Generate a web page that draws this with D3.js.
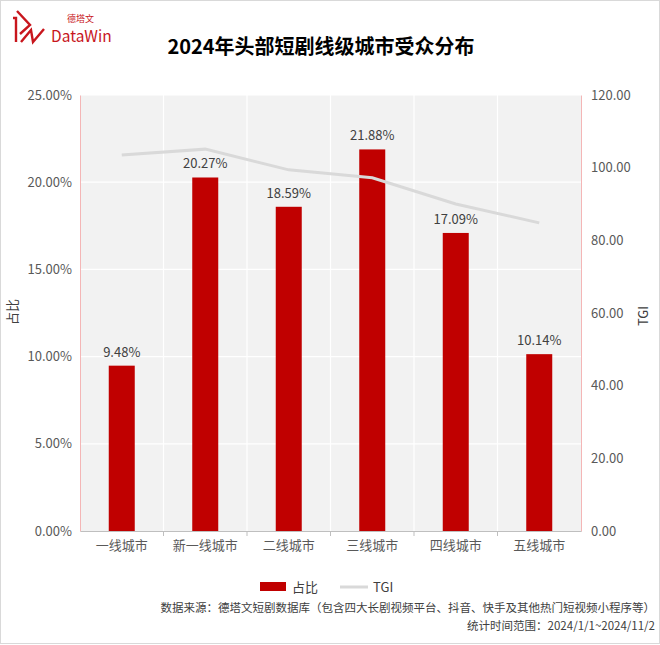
<!DOCTYPE html>
<html>
<head>
<meta charset="utf-8">
<style>
body { margin: 0; background: #fff; }
text { font-family: "Noto Sans CJK SC", "Noto Sans", sans-serif; }
.tick text { fill: #595959; font-size: 13px; }
</style>
</head>
<body>
<svg width="660" height="645"></svg>
<script src="https://d3js.org/d3.v7.min.js"></script>
<script>

var categories = ["一线城市", "新一线城市", "二线城市", "三线城市", "四线城市", "五线城市"];
var share = [9.48, 20.27, 18.59, 21.88, 17.09, 10.14];
var tgi = [103.5, 105.1, 99.4, 97.2, 90.0, 84.8];
var leftTicks = [0, 5, 10, 15, 20, 25];
var rightTicks = [0, 20, 40, 60, 80, 100, 120];

var svg = d3.select("svg");
var plotL = 80, plotR = 581, plotT = 95, plotB = 531;

// frame
svg.append("rect").attr("x", 0.5).attr("y", 0.5).attr("width", 659).attr("height", 643)
  .attr("fill", "none").attr("stroke", "#d9d9d9");

var x = d3.scaleBand().domain(categories).range([plotL, plotR]);
var y = d3.scaleLinear().domain([0, 25]).range([plotB, plotT]);
var y2 = d3.scaleLinear().domain([0, 120]).range([plotB, plotT]);

// plot background
svg.append("rect").attr("x", plotL).attr("y", plotT).attr("width", plotR - plotL).attr("height", plotB - plotT)
  .attr("fill", "#f2f2f2");

// grid
svg.append("g").selectAll("line").data(leftTicks.slice(1)).enter().append("line")
  .attr("x1", plotL).attr("x2", plotR)
  .attr("y1", function(d) { return y(d); }).attr("y2", function(d) { return y(d); })
  .attr("stroke", "#fff").attr("stroke-width", 1.2);
svg.append("g").selectAll("line").data(categories.slice(1)).enter().append("line")
  .attr("x1", function(d) { return x(d); }).attr("x2", function(d) { return x(d); })
  .attr("y1", plotT).attr("y2", plotB)
  .attr("stroke", "#fff").attr("stroke-width", 1.2);

// axes
var yAxis = svg.append("g").attr("transform", "translate(" + plotL + ",0)")
  .call(d3.axisLeft(y).tickValues(leftTicks).tickSize(0).tickPadding(8)
    .tickFormat(function(d) { return d.toFixed(2) + "%"; }));
yAxis.select(".domain").attr("stroke", "#f4b6b6");

var y2Axis = svg.append("g").attr("transform", "translate(" + plotR + ",0)")
  .call(d3.axisRight(y2).tickValues(rightTicks).tickSize(0).tickPadding(10)
    .tickFormat(function(d) { return d.toFixed(2); }));
y2Axis.select(".domain").attr("stroke", "#f4b6b6");

var xAxis = svg.append("g").attr("transform", "translate(0," + plotB + ")")
  .call(d3.axisBottom(x).tickSize(0).tickPadding(10));
xAxis.select(".domain").attr("stroke", "#bfbfbf");
xAxis.selectAll(".tick text").attr("font-size", "13px").attr("fill", "#404040");
svg.append("g").selectAll("line").data(categories.slice(1)).enter().append("line")
  .attr("x1", function(d) { return x(d); }).attr("x2", function(d) { return x(d); })
  .attr("y1", plotB).attr("y2", plotB + 5).attr("stroke", "#bfbfbf");

// bars
var bw = 26;
svg.append("g").selectAll("rect").data(share).enter().append("rect")
  .attr("x", function(d, i) { return x(categories[i]) + x.bandwidth() / 2 - bw / 2; })
  .attr("y", function(d) { return y(d); })
  .attr("width", bw)
  .attr("height", function(d) { return plotB - y(d); })
  .attr("fill", "#c00000");

// TGI line
var line = d3.line()
  .x(function(d, i) { return x(categories[i]) + x.bandwidth() / 2; })
  .y(function(d) { return y2(d); });
svg.append("path").datum(tgi).attr("d", line)
  .attr("fill", "none").attr("stroke", "#d9d9d9").attr("stroke-width", 3);

// labels
svg.append("g").selectAll("text").data(share).enter().append("text")
  .attr("x", function(d, i) { return x(categories[i]) + x.bandwidth() / 2; })
  .attr("y", function(d) { return y(d) - 9; })
  .attr("text-anchor", "middle").attr("font-size", "13px").attr("fill", "#404040")
  .text(function(d) { return d.toFixed(2) + "%"; });

// axis titles
svg.append("text").attr("transform", "translate(17,312) rotate(-90)")
  .attr("text-anchor", "middle").attr("font-size", "13px").attr("fill", "#404040").text("占比");
svg.append("text").attr("transform", "translate(648,316) rotate(-90)")
  .attr("text-anchor", "middle").attr("font-size", "13px").attr("fill", "#404040").text("TGI");

// title
svg.append("text").attr("x", 321).attr("y", 54).attr("text-anchor", "middle")
  .attr("font-size", "20px").attr("font-weight", "bold").attr("fill", "#000")
  .text("2024年头部短剧线级城市受众分布");

// logo
var logo = svg.append("g").attr("fill", "none").attr("stroke", "#c8161d").attr("stroke-width", 2.4)
  .attr("stroke-linejoin", "miter");
logo.append("path").attr("d", "M13,18 L16,18 L16,42");
logo.append("path").attr("d", "M17,11 L30,25 L20,34");
logo.append("path").attr("d", "M21,42 L31,30 L33,42 L44,29");
svg.append("text").attr("x", 67).attr("y", 22).attr("font-size", "9px").attr("fill", "#c8161d").text("德塔文");
svg.append("text").attr("x", 51).attr("y", 42).attr("font-size", "15.5px").attr("fill", "#c8161d")
  .attr("font-family", "Roboto, sans-serif").text("DataWin");

// legend
svg.append("rect").attr("x", 260).attr("y", 582).attr("width", 26).attr("height", 9).attr("fill", "#c00000");
svg.append("text").attr("x", 292).attr("y", 592).attr("font-size", "13px").attr("fill", "#404040").text("占比");
svg.append("line").attr("x1", 340).attr("x2", 368).attr("y1", 587).attr("y2", 587)
  .attr("stroke", "#d9d9d9").attr("stroke-width", 3);
svg.append("text").attr("x", 373).attr("y", 592).attr("font-size", "13px").attr("fill", "#404040").text("TGI");

// source
svg.append("text").attr("x", 655).attr("y", 612).attr("text-anchor", "end").attr("font-size", "11.5px")
  .attr("fill", "#404040").text("数据来源：德塔文短剧数据库（包含四大长剧视频平台、抖音、快手及其他热门短视频小程序等）");
svg.append("text").attr("x", 655).attr("y", 630).attr("text-anchor", "end").attr("font-size", "11.5px")
  .attr("fill", "#404040").text("统计时间范围：2024/1/1~2024/11/2");
</script>
</body>
</html>
